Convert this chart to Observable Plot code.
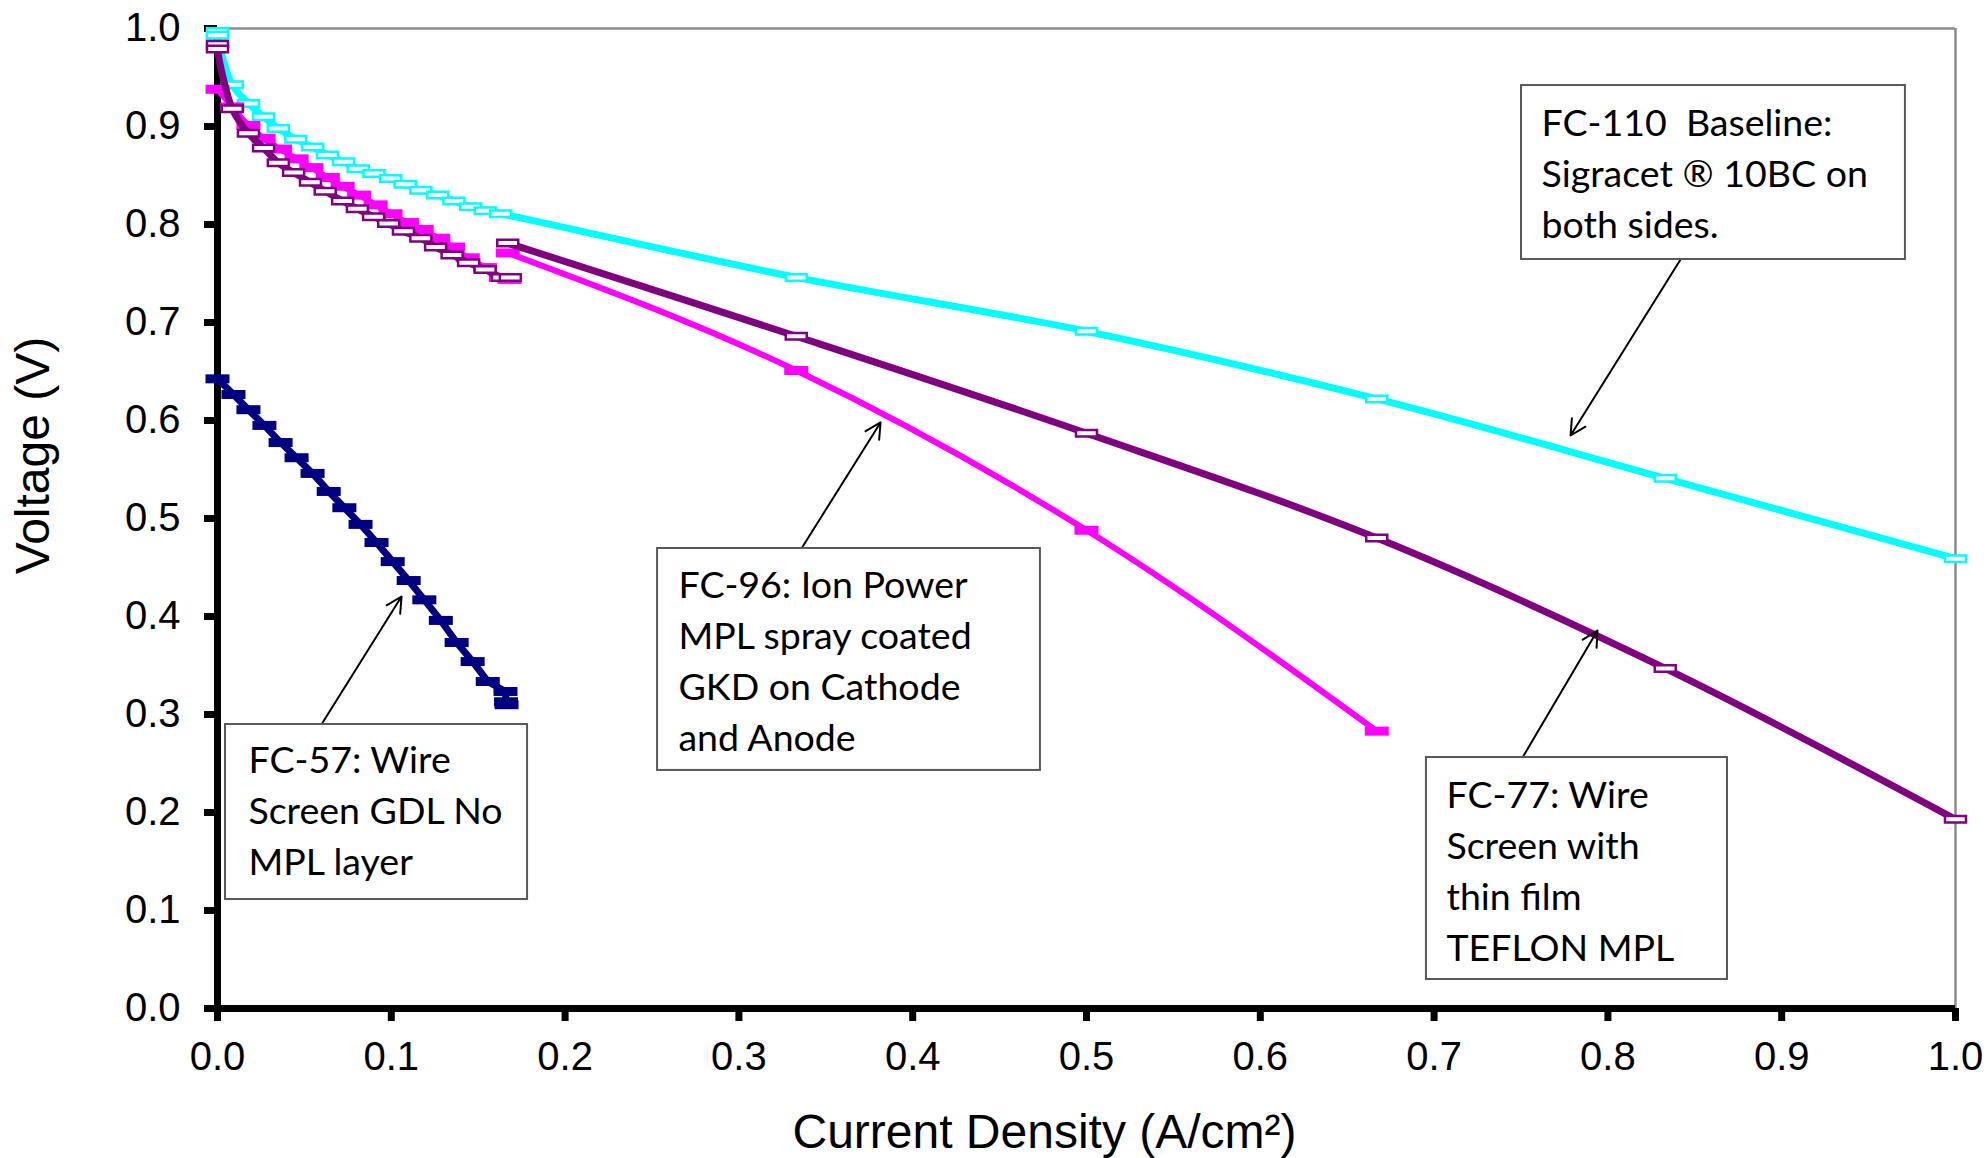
<!DOCTYPE html>
<html>
<head>
<meta charset="utf-8">
<script src="https://cdn.jsdelivr.net/npm/d3@7"></script>
<script src="https://cdn.jsdelivr.net/npm/@observablehq/plot@0.6"></script>
<style>
  html, body { margin: 0; padding: 0; background: #fff; }
  #chart svg { display: block; }
</style>
</head>
<body>
<div id="chart"></div>
<script>
// ---------- data (current density A/cm², voltage V) ----------
const fc110X = [0, 0, 0.0085, 0.0178, 0.0265, 0.035, 0.045, 0.0547, 0.0633, 0.0725, 0.081, 0.090, 0.0996, 0.108, 0.117, 0.1267, 0.136, 0.1457, 0.154, 0.163, 0.333, 0.5, 0.667, 0.833, 1.0];
const fc110V = [0.997, 0.993, 0.9425, 0.9235, 0.910, 0.898, 0.887, 0.879, 0.871, 0.864, 0.857, 0.852, 0.847, 0.841, 0.835, 0.830, 0.824, 0.818, 0.814, 0.811, 0.746, 0.691, 0.622, 0.541, 0.459];

const fc96LowX = [0, 0.0085, 0.0178, 0.0265, 0.036, 0.0455, 0.054, 0.0635, 0.072, 0.0815, 0.091, 0.0995, 0.109, 0.1175, 0.127, 0.1355, 0.144, 0.154, 0.163, 0.168];
const fc96LowV = [0.938, 0.920, 0.901, 0.888, 0.877, 0.867, 0.858, 0.848, 0.839, 0.830, 0.820, 0.811, 0.802, 0.795, 0.786, 0.777, 0.766, 0.756, 0.746, 0.744];
const fc96HighX = [0.167, 0.333, 0.5, 0.667];
const fc96HighV = [0.771, 0.651, 0.488, 0.283];

const fc77LowX = [0, 0, 0.0085, 0.0178, 0.0265, 0.035, 0.0438, 0.0535, 0.062, 0.072, 0.0805, 0.0898, 0.0985, 0.107, 0.117, 0.1255, 0.135, 0.1445, 0.154, 0.164, 0.1685];
const fc77LowV = [0.984, 0.979, 0.918, 0.893, 0.878, 0.863, 0.853, 0.843, 0.834, 0.824, 0.816, 0.808, 0.801, 0.793, 0.786, 0.777, 0.769, 0.761, 0.754, 0.746, 0.746];
const fc77HighX = [0.167, 0.333, 0.5, 0.667, 0.833, 1.0];
const fc77HighV = [0.781, 0.686, 0.587, 0.480, 0.347, 0.193];

const fc57X = [0, 0.0092, 0.0178, 0.027, 0.0363, 0.0455, 0.0547, 0.064, 0.073, 0.0823, 0.0915, 0.1008, 0.11, 0.119, 0.1285, 0.1376, 0.1468, 0.1555, 0.1657, 0.1660, 0.1663];
const fc57V = [0.6425, 0.6265, 0.611, 0.595, 0.5775, 0.562, 0.546, 0.5276, 0.511, 0.494, 0.4755, 0.456, 0.4367, 0.417, 0.396, 0.3735, 0.354, 0.3337, 0.3235, 0.313, 0.310];

const xTicks = [0, 0.1, 0.2, 0.3, 0.4, 0.5, 0.6, 0.7, 0.8, 0.9, 1.0];
const yTicks = [0, 0.1, 0.2, 0.3, 0.4, 0.5, 0.6, 0.7, 0.8, 0.9, 1.0];
const xTitle = "Current Density (A/cm²)";
const yTitle = "Voltage (V)";

// annotations (in data units)
const noteText = [
  "FC-110  Baseline:\nSigracet ® 10BC on\nboth sides.",
  "FC-96: Ion Power\nMPL spray coated\nGKD on Cathode\nand Anode",
  "FC-57: Wire\nScreen GDL No\nMPL layer",
  "FC-77: Wire\nScreen with\nthin film\nTEFLON MPL"
];
const noteBoxX1 = [0.7503, 0.2532, 0.0046, 0.6956];
const noteBoxX2 = [0.9712, 0.4735, 0.1784, 0.8688];
const noteBoxYTop = [0.9418, 0.4694, 0.2898, 0.2561];
const noteBoxYBottom = [0.7643, 0.2429, 0.1112, 0.0296];
const noteTextX = [0.7618, 0.2652, 0.0178, 0.7071];
const noteTextY = [0.9268, 0.4554, 0.2768, 0.2411];
const arrowX1 = [0.8418, 0.3360, 0.0598, 0.7509];
const arrowY1 = [0.7643, 0.4694, 0.2898, 0.2561];
const arrowX2 = [0.7785, 0.3815, 0.1059, 0.7940];
const arrowY2 = [0.5847, 0.5980, 0.4204, 0.3857];

// ---------- build tables ----------
const pts = (xs, vs) => xs.map((x, i) => ({x, v: vs[i]}));
const fc110 = pts(fc110X, fc110V);
const fc96Low = pts(fc96LowX, fc96LowV);
const fc96High = pts(fc96HighX, fc96HighV);
const fc77Low = pts(fc77LowX, fc77LowV);
const fc77High = pts(fc77HighX, fc77HighV);
const fc57 = pts(fc57X, fc57V);
const notes = noteText.map((t, i) => ({
  t, bx1: noteBoxX1[i], bx2: noteBoxX2[i], by1: noteBoxYBottom[i], by2: noteBoxYTop[i],
  tx: noteTextX[i], ty: noteTextY[i],
  ax1: arrowX1[i], ay1: arrowY1[i], ax2: arrowX2[i], ay2: arrowY2[i]
}));

const rectSymbol = (w, h) => ({
  draw(ctx) {
    ctx.moveTo(-w / 2, -h / 2);
    ctx.lineTo(w / 2, -h / 2);
    ctx.lineTo(w / 2, h / 2);
    ctx.lineTo(-w / 2, h / 2);
    ctx.closePath();
  }
});
const hollow = rectSymbol(21, 6.5);
const solid = rectSymbol(24, 9);

const CYAN = "#00FFFF", MAGENTA = "#FF00FF", PURPLE = "#800080", NAVY = "#000080";

const lineMark = (data, color, w, curve) => Plot.line(data, {x: "x", y: "v", stroke: color, strokeWidth: w, curve});
const hollowDots = (data, color) => Plot.dot(data, {x: "x", y: "v", symbol: hollow, r: 5, fill: "white", stroke: color, strokeWidth: 2.5});
const solidDots = (data, color) => Plot.dot(data, {x: "x", y: "v", symbol: solid, r: 5, fill: color, stroke: "none"});

const chart = Plot.plot({
  width: 1988,
  height: 1158,
  marginLeft: 217,
  marginRight: 33,
  marginTop: 28,
  marginBottom: 150,
  style: {fontFamily: "'Liberation Sans', Arial, sans-serif", fontSize: "40px", background: "#fff", color: "#000"},
  x: {domain: [0, 1]},
  y: {domain: [0, 1]},
  marks: [
    Plot.ruleY([1], {stroke: "#8c8c8c", strokeWidth: 2.5}),
    Plot.ruleX([1], {stroke: "#8c8c8c", strokeWidth: 2.5}),
    Plot.axisX({ticks: xTicks, tickFormat: d3.format(".1f"), tickSize: 13, tickPadding: 20, strokeWidth: 7, fontSize: 40, label: null}),
    Plot.axisY({ticks: yTicks, tickFormat: d3.format(".1f"), tickSize: 13, tickPadding: 24, strokeWidth: 7, fontSize: 40, label: null}),
    Plot.ruleY([0], {stroke: "#000", strokeWidth: 7}),
    Plot.ruleX([0], {stroke: "#000", strokeWidth: 7}),

    lineMark(fc110, CYAN, 7, "catmull-rom"),
    hollowDots(fc110, CYAN),

    lineMark(fc96Low, MAGENTA, 6, "catmull-rom"),
    solidDots(fc96Low, MAGENTA),
    lineMark(fc96High, MAGENTA, 6, "monotone-x"),
    solidDots(fc96High, MAGENTA),

    lineMark(fc77Low, PURPLE, 7, "catmull-rom"),
    hollowDots(fc77Low, PURPLE),
    lineMark(fc77High, PURPLE, 7, "catmull-rom"),
    hollowDots(fc77High, PURPLE),

    lineMark(fc57, NAVY, 7, "linear"),
    solidDots(fc57, NAVY),

    Plot.text([xTitle], {frameAnchor: "bottom", dy: 139, dx: -42, lineAnchor: "bottom", fontSize: 48}),
    Plot.text([yTitle], {frameAnchor: "left", rotate: -90, textAnchor: "middle", lineAnchor: "bottom", dx: -169, dy: -63, fontSize: 48}),

    Plot.arrow(notes, {x1: "ax1", y1: "ay1", x2: "ax2", y2: "ay2", stroke: "#000", strokeWidth: 2, headLength: 13, headAngle: 55}),
    Plot.rect(notes, {x1: "bx1", x2: "bx2", y1: "by1", y2: "by2", fill: "white", stroke: "#595959", strokeWidth: 2}),
    Plot.text(notes, {x: "tx", y: "ty", text: "t", textAnchor: "start", lineAnchor: "top", lineHeight: 1.36, fontFamily: "Lato, 'Open Sans', sans-serif", fontSize: 37.5, fill: "#000"})
  ]
});
document.getElementById("chart").appendChild(chart);
</script>
</body>
</html>
